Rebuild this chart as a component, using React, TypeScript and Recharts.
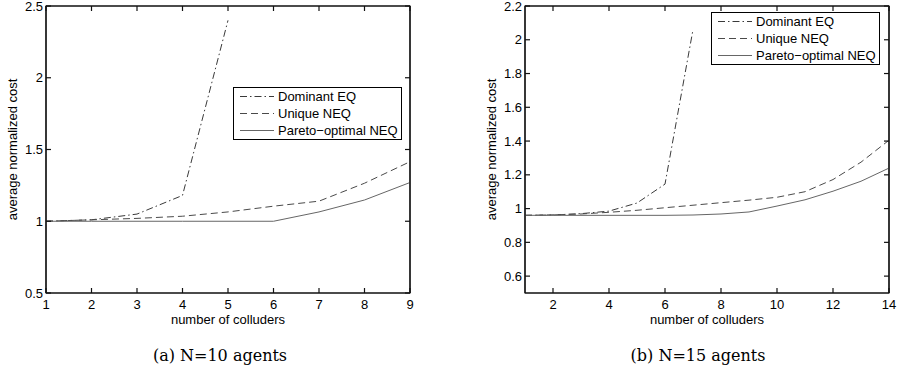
import React from 'react';
import { LineChart, Line, XAxis, YAxis, Legend, ReferenceArea } from 'recharts';

// ---------- data ----------
const xLeft = [1, 2, 3, 4, 5, 6, 7, 8, 9];
const domLeft = [1.0, 1.01, 1.05, 1.18, 2.4, null, null, null, null];
const uniLeft = [1.0, 1.01, 1.02, 1.035, 1.065, 1.105, 1.14, 1.265, 1.415];
const parLeft = [1.0, 1.0, 1.0, 1.0, 1.0, 1.0, 1.065, 1.148, 1.27];
const xTicksLeft = [1, 2, 3, 4, 5, 6, 7, 8, 9];
const yTicksLeft = [0.5, 1, 1.5, 2, 2.5];

const xRight = [1, 2, 3, 4, 5, 6, 7, 8, 9, 10, 11, 12, 13, 14];
const domRight = [0.96, 0.962, 0.97, 0.985, 1.033, 1.145, 2.06, null, null, null, null, null, null, null];
const uniRight = [0.96, 0.963, 0.968, 0.978, 0.99, 1.005, 1.02, 1.035, 1.05, 1.067, 1.1, 1.172, 1.275, 1.405];
const parRight = [0.96, 0.96, 0.96, 0.96, 0.96, 0.96, 0.962, 0.968, 0.98, 1.015, 1.052, 1.103, 1.162, 1.24];
const xTicksRight = [2, 4, 6, 8, 10, 12, 14];
const yTicksRight = [0.6, 0.8, 1, 1.2, 1.4, 1.6, 1.8, 2, 2.2];

const seriesNames = ['Dominant EQ', 'Unique NEQ', 'Pareto\u2212optimal NEQ'];
const captionLeft = '(a) N=10 agents';
const captionRight = '(b) N=15 agents';
const xTitle = 'number of colluders';
const yTitle = 'average normalized cost';

// ---------- styles ----------
const FONT = '"Liberation Sans", Arial, Helvetica, sans-serif';
const FS = 13;
const TICK_LEN = 5;
const FRAME = '#111';
const STYLES = [
  { stroke: '#3a3a3a', dash: '7 3 1.5 3' },
  { stroke: '#4a4a4a', dash: '7 4' },
  { stroke: '#666666', dash: undefined as string | undefined },
];
const TOP_AXIS_H = 10;
const SHIFT = 4;

const BottomTick = (props: any) => {
  const { x, y, payload } = props;
  return (
    <g>
      <line x1={x} x2={x} y1={y} y2={y - TICK_LEN} stroke={FRAME} strokeWidth={1.2} />
      <text x={x} y={y + 16} textAnchor="middle" fontSize={FS} fontFamily={FONT} fill="#000">
        {payload.value}
      </text>
    </g>
  );
};
const TopTick = (props: any) => {
  const { x, y } = props;
  return <line x1={x} x2={x} y1={y} y2={y + TICK_LEN} stroke={FRAME} strokeWidth={1.2} />;
};
const LeftTick = (props: any) => {
  const { x, y, payload } = props;
  return (
    <g>
      <line x1={x} x2={x + TICK_LEN} y1={y} y2={y} stroke={FRAME} strokeWidth={1.2} />
      <text x={x - 3} y={y + 4.5} textAnchor="end" fontSize={FS} fontFamily={FONT} fill="#000">
        {payload.value}
      </text>
    </g>
  );
};
const RightTick = (props: any) => {
  const { x, y } = props;
  return <line x1={x} x2={x - TICK_LEN} y1={y} y2={y} stroke={FRAME} strokeWidth={1.2} />;
};

const LegendBox = () => (
  <div
    style={{
      border: '1px solid #000',
      background: '#fff',
      padding: '0 3px 0 6px',
      fontFamily: FONT,
      fontSize: FS,
      lineHeight: '17px',
      width: 'max-content',
    }}
  >
    {seriesNames.map((n, i) => (
      <div key={n} style={{ display: 'flex', alignItems: 'center', height: 17 }}>
        <svg width={36} height={17} style={{ display: 'block' }}>
          <line x1={0} x2={34} y1={8.5} y2={8.5} stroke={STYLES[i].stroke} strokeDasharray={STYLES[i].dash} />
        </svg>
        <span style={{ marginLeft: 2 }}>{n}</span>
      </div>
    ))}
  </div>
);

type PanelProps = {
  xs: number[];
  dom: (number | null)[];
  uni: number[];
  par: number[];
  xTicks: number[];
  yTicks: number[];
  xDomain: [number, number];
  yDomain: [number, number];
  yAxisWidth: number;
  rightAxisWidth: number;
  yLabelOffset: number;
  legendPos: { left: number; top: number };
};

const Panel = (p: PanelProps) => {
  const data = p.xs.map((x, i) => ({ x, dom: p.dom[i], uni: p.uni[i], par: p.par[i] }));
  const width = p.yAxisWidth + 364 + p.rightAxisWidth;
  return (
    <LineChart width={width} height={TOP_AXIS_H + 287 + 40} data={data} margin={{ top: 0, right: 0, bottom: 0, left: 0 }}>
      <XAxis
        xAxisId="xb"
        dataKey="x"
        type="number"
        domain={p.xDomain}
        ticks={p.xTicks}
        interval={0}
        height={40}
        tickSize={0}
        tickMargin={0}
        tickLine={false}
        axisLine={{ stroke: FRAME, strokeWidth: 1.2 }}
        tick={<BottomTick />}
        label={{ value: xTitle, position: 'insideBottom', offset: 9, fontSize: FS, fontFamily: FONT, fill: '#000' }}
      />
      <XAxis
        xAxisId="xt"
        orientation="top"
        dataKey="x"
        type="number"
        domain={p.xDomain}
        ticks={p.xTicks}
        height={TOP_AXIS_H}
        tickSize={0}
        tickMargin={0}
        tickLine={false}
        axisLine={{ stroke: FRAME, strokeWidth: 1.2 }}
        tick={<TopTick />}
      />
      <YAxis
        yAxisId="yl"
        type="number"
        domain={p.yDomain}
        ticks={p.yTicks}
        interval={0}
        width={p.yAxisWidth}
        tickSize={0}
        tickMargin={0}
        tickLine={false}
        axisLine={{ stroke: FRAME, strokeWidth: 1.2 }}
        tick={<LeftTick />}
        label={{
          value: yTitle,
          angle: -90,
          position: 'insideLeft',
          offset: p.yLabelOffset,
          fontSize: FS,
          fontFamily: FONT,
          fill: '#000',
          style: { textAnchor: 'middle' },
        }}
      />
      <YAxis
        yAxisId="yr"
        orientation="right"
        type="number"
        domain={p.yDomain}
        ticks={p.yTicks}
        width={p.rightAxisWidth}
        tickSize={0}
        tickMargin={0}
        tickLine={false}
        axisLine={{ stroke: FRAME, strokeWidth: 1.2 }}
        tick={<RightTick />}
      />
      <ReferenceArea
        xAxisId="xb"
        yAxisId="yl"
        x1={p.xDomain[0]}
        x2={p.xDomain[1]}
        y1={p.yDomain[0]}
        y2={p.yDomain[1]}
        fill="none"
        fillOpacity={0}
        stroke={FRAME}
        strokeWidth={1.2}
        strokeOpacity={1}
        ifOverflow="visible"
      />
      <Legend
        layout="horizontal"
        align="center"
        verticalAlign="middle"
        content={<LegendBox />}
        wrapperStyle={{ left: p.legendPos.left, top: p.legendPos.top + SHIFT, width: 'auto', height: 'auto' }}
      />
      <Line xAxisId="xt" yAxisId="yr" type="linear" dataKey="dom" name={seriesNames[0]} stroke={STYLES[0].stroke} strokeDasharray={STYLES[0].dash} strokeWidth={1} dot={false} activeDot={false} isAnimationActive={false} />
      <Line xAxisId="xb" yAxisId="yl" type="linear" dataKey="uni" name={seriesNames[1]} stroke={STYLES[1].stroke} strokeDasharray={STYLES[1].dash} strokeWidth={1} dot={false} activeDot={false} isAnimationActive={false} />
      <Line xAxisId="xb" yAxisId="yl" type="linear" dataKey="par" name={seriesNames[2]} stroke={STYLES[2].stroke} strokeWidth={1} dot={false} activeDot={false} isAnimationActive={false} />
    </LineChart>
  );
};

const captionStyle: React.CSSProperties = {
  position: 'absolute',
  top: 346,
  width: 240,
  textAlign: 'center',
  fontFamily: '"DejaVu Serif", "Liberation Serif", serif',
  fontSize: 16,
  lineHeight: '20px',
  color: '#000',
};

export default function App() {
  return (
    <div style={{ position: 'absolute', left: 0, top: 0, width: 897, height: 373, background: '#fff', overflow: 'hidden' }}>
      <div style={{ position: 'absolute', left: 0, top: -SHIFT }}>
        <Panel
          xs={xLeft}
          dom={domLeft}
          uni={uniLeft}
          par={parLeft}
          xTicks={xTicksLeft}
          yTicks={yTicksLeft}
          xDomain={[1, 9]}
          yDomain={[0.5, 2.5]}
          yAxisWidth={46}
          rightAxisWidth={10}
          yLabelOffset={12}
          legendPos={{ left: 233, top: 87 }}
        />
      </div>
      <div style={{ position: 'absolute', left: 470, top: -SHIFT }}>
        <Panel
          xs={xRight}
          dom={domRight}
          uni={uniRight}
          par={parRight}
          xTicks={xTicksRight}
          yTicks={yTicksRight}
          xDomain={[1, 14]}
          yDomain={[0.5, 2.2]}
          yAxisWidth={55}
          rightAxisWidth={8}
          yLabelOffset={21}
          legendPos={{ left: 241, top: 12 }}
        />
      </div>
      <div style={{ ...captionStyle, left: 220 - 120 }}>{captionLeft}</div>
      <div style={{ ...captionStyle, left: 698 - 120 }}>{captionRight}</div>
    </div>
  );
}
